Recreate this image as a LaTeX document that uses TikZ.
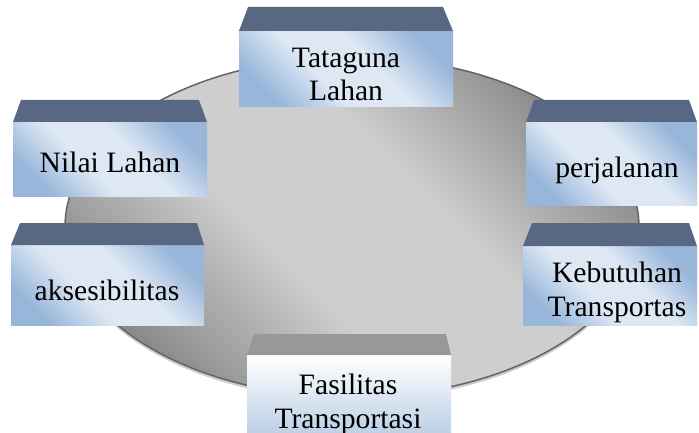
\documentclass[tikz,border=0pt]{standalone}
\usepackage{fontspec}
\setmainfont{Liberation Serif}
\usetikzlibrary{shapes.geometric}

\definecolor{slabtop}{RGB}{88,104,130}
\definecolor{frontlight}{RGB}{222,232,244}
\definecolor{frontblue}{RGB}{152,182,218}
\definecolor{ringlight}{RGB}{206,206,206}
\definecolor{ringdark}{RGB}{138,138,138}
\definecolor{ringline}{RGB}{100,100,100}
\definecolor{paletop}{RGB}{152,152,152}
\definecolor{palefront}{RGB}{184,204,228}

\pgfdeclarehorizontalshading{slabshade}{100bp}{color(0bp)=(frontblue); color(25bp)=(frontblue);
  color(42bp)=(frontlight); color(58bp)=(frontlight); color(75bp)=(frontblue); color(100bp)=(frontblue)}
\pgfdeclarehorizontalshading{ringshade}{100bp}{color(0bp)=(ringdark); color(25bp)=(ringdark);
  color(42bp)=(ringlight); color(58bp)=(ringlight); color(75bp)=(ringdark); color(100bp)=(ringdark)}

\tikzset{
  front/.style={rectangle, inner sep=0pt, outer sep=0pt, shading=slabshade, shading angle=45},
  lid/.style={fill=slabtop},
  caption/.style={font=\fontsize{29.6}{33.5}\selectfont, align=center, anchor=base, inner sep=0pt},
}

\begin{document}
\begin{tikzpicture}[x=1pt, y=-1pt]
    \useasboundingbox (0,0) rectangle (699,433);
    % background ring
    \node[ellipse, fill=gray!40, minimum width=574pt, minimum height=340pt, inner sep=0pt] (rim) at (352,230) {};
    \node[ellipse, draw=ringline, line width=1.5pt, shading=ringshade, shading angle=45,
          minimum width=574pt, minimum height=340pt, inner sep=0pt] (ring) at (352,227) {};

    % boxes
    \node[front, minimum width=214pt, minimum height=76pt] (tataguna) at (346,69) {};
    \fill[lid] (tataguna.north west) -- ([xshift=9pt, yshift=24pt]tataguna.north west)
        -- ([xshift=-10pt, yshift=24pt]tataguna.north east) -- (tataguna.north east) -- cycle;
    \node[caption] (tatagunatext) at (346,101) {Tataguna\\Lahan};

    \node[front, minimum width=194pt, minimum height=74pt] (nilai) at (110,159) {};
    \fill[lid] (nilai.north west) -- ([xshift=8pt, yshift=22pt]nilai.north west)
        -- ([xshift=-8pt, yshift=22pt]nilai.north east) -- (nilai.north east) -- cycle;
    \node[caption] (nilaitext) at (110,173) {Nilai Lahan};

    \node[front, minimum width=171pt, minimum height=83pt] (perjalanan) at (611.5,163.5) {};
    \fill[lid] (perjalanan.north west) -- ([xshift=8pt, yshift=22pt]perjalanan.north west)
        -- ([xshift=-8pt, yshift=22pt]perjalanan.north east) -- (perjalanan.north east) -- cycle;
    \node[caption] (perjalanantext) at (617,178) {perjalanan};

    \node[front, minimum width=193pt, minimum height=80pt] (aksesibilitas) at (107.5,285) {};
    \fill[lid] (aksesibilitas.north west) -- ([xshift=9pt, yshift=22pt]aksesibilitas.north west)
        -- ([xshift=-7pt, yshift=22pt]aksesibilitas.north east) -- (aksesibilitas.north east) -- cycle;
    \node[caption] (aksesibilitastext) at (107,300) {aksesibilitas};

    \node[front, minimum width=174pt, minimum height=79pt] (kebutuhan) at (610,285.5) {};
    \fill[lid] (kebutuhan.north west) -- ([xshift=9pt, yshift=23pt]kebutuhan.north west)
        -- ([xshift=-8pt, yshift=23pt]kebutuhan.north east) -- (kebutuhan.north east) -- cycle;
    \node[caption] (kebutuhantext) at (617,316) {Kebutuhan\\Transportas};

    \node[rectangle, inner sep=0pt, outer sep=0pt, top color=white, bottom color=palefront,
          minimum width=204pt, minimum height=85pt] (fasilitas) at (349,397.5) {};
    \fill[paletop] (fasilitas.north west) -- ([xshift=7pt, yshift=21pt]fasilitas.north west)
        -- ([xshift=-5pt, yshift=21pt]fasilitas.north east) -- (fasilitas.north east) -- cycle;
    \node[caption] (fasilitastext) at (348,428) {Fasilitas\\Transportasi};
\end{tikzpicture}
\end{document}
